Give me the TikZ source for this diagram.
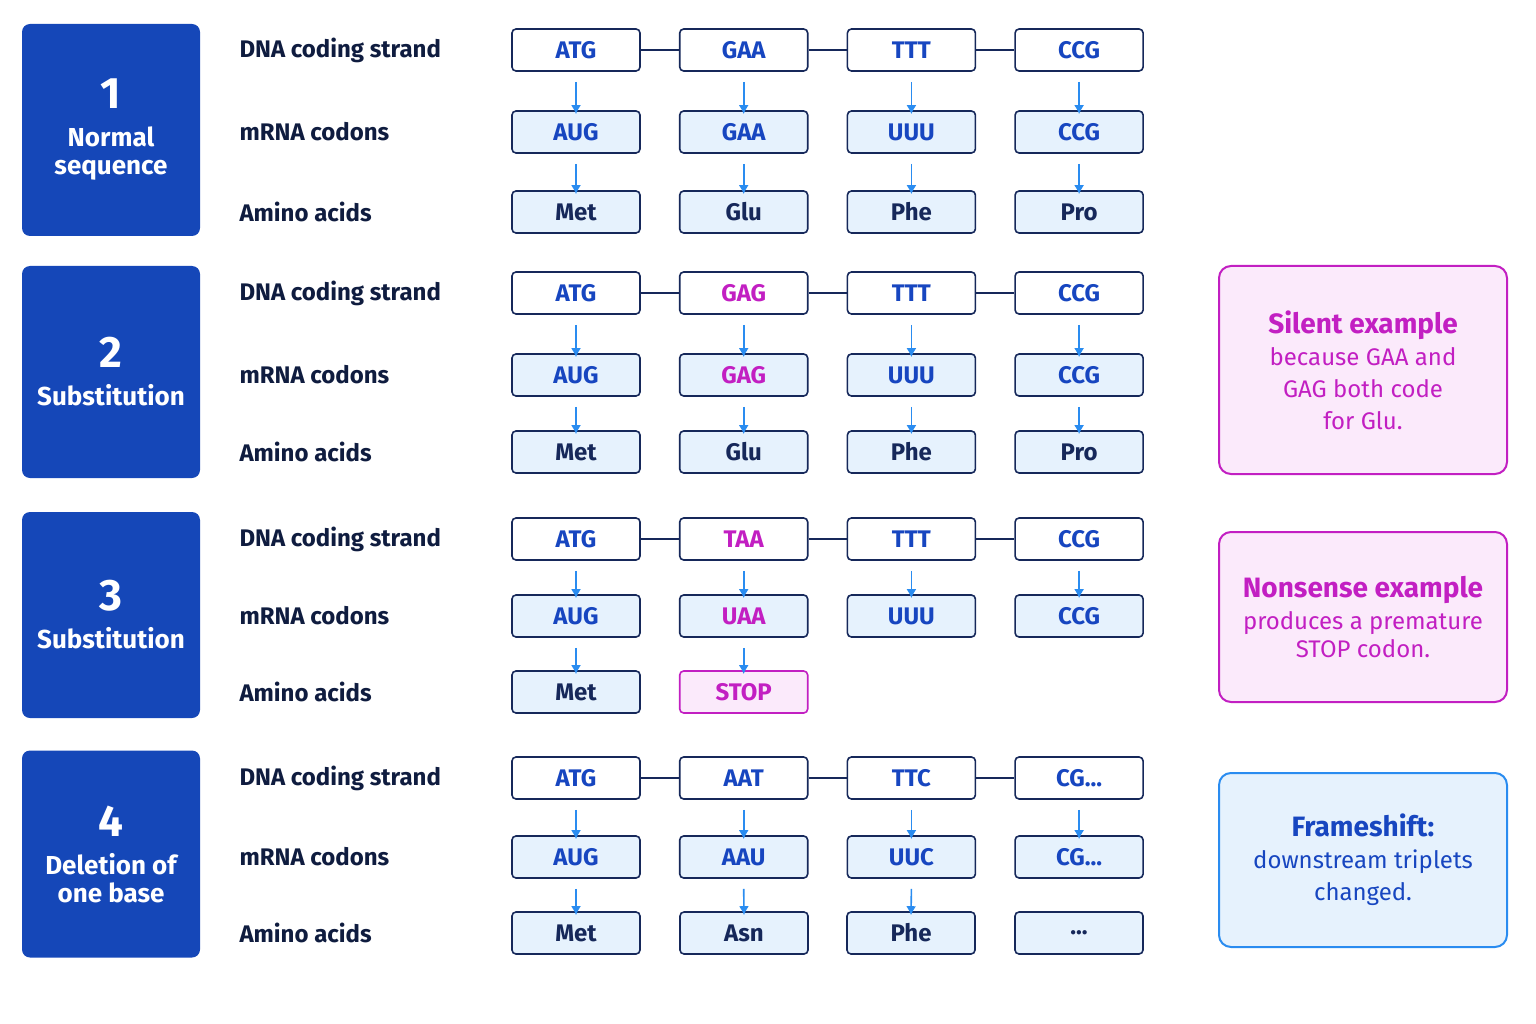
\documentclass[tikz,border=0pt]{standalone}
\usepackage{fontspec}
\setmainfont{Fira Sans}
\usetikzlibrary{arrows.meta}
\begin{document}
\definecolor{navy}{HTML}{16285A}
\definecolor{tblue}{HTML}{1746C0}
\definecolor{arr}{HTML}{2A8CF0}
\definecolor{lfill}{HTML}{E6F2FD}
\definecolor{mag}{HTML}{C21FC2}
\definecolor{pfill}{HTML}{FBEAFB}
\definecolor{pbox}{HTML}{1547B8}
\begin{tikzpicture}[x=1pt,y=-1pt,
 box/.style={draw=navy,line width=1.6pt,rounded corners=4pt,minimum width=128pt,minimum height=42pt,inner sep=0pt,font=\fontsize{24}{26}\selectfont\bfseries},
 dna/.style={box,fill=white,text=tblue},
 rna/.style={box,fill=lfill,text=tblue},
 aa/.style={box,fill=lfill,text=navy},
 stop/.style={box,draw=mag,fill=pfill,text=mag},
 lab/.style={anchor=west,text=navy!70!black,font=\fontsize{24}{26}\selectfont\bfseries},
 panel/.style={fill=pbox,rounded corners=8pt,text=white,align=center,minimum width=178pt,inner sep=0pt,font=\fontsize{26}{38}\selectfont\bfseries},
 link/.style={navy,line width=2pt},
 ar/.style={arr,line width=1.6pt,-{Latex[length=9pt,width=10pt]}},
 note/.style={rounded corners=12pt,line width=2pt,minimum width=288pt,align=center,inner sep=0pt,font=\fontsize{24}{32}\selectfont}
]
\useasboundingbox (0,0) rectangle (1536,1024);
\newcommand\dnarow[3]{\foreach \i/\t in {#3} \node[dna] (p#1d\i) at ({408.3+167.7*\i},#2) {\t};
 \foreach \i [evaluate=\i as \j using int(\i+1)] in {1,2,3} \draw[link] (p#1d\i.east) -- (p#1d\j.west);
 \node[lab] (l#1d) at (236,#2) {DNA coding strand};}
\newcommand\rnarow[3]{\foreach \i/\t in {#3} {\node[rna] (p#1r\i) at ({408.3+167.7*\i},#2) {\t};
 \draw[ar] (p#1d\i.south) ++(0,10) -- ([yshift=-4pt]p#1r\i.north);}
 \node[lab] (l#1r) at (236,#2) {mRNA codons};}
\newcommand\aarow[3]{\foreach \i/\t/\s in {#3} {\node[\s] (p#1a\i) at ({408.3+167.7*\i},#2) {\t};
 \draw[ar] (p#1r\i.south) ++(0,10) -- ([yshift=-4pt]p#1a\i.north);}
 \node[lab] (l#1a) at (236,#2) {Amino acids};}
% panel 1
\node[panel,minimum height=212pt] (P1) at (111,130) {{\fontsize{44}{50}\selectfont 1}\\Normal\\[-10pt]sequence};
\dnarow{1}{50}{1/ATG,2/GAA,3/TTT,4/CCG}
\rnarow{1}{132}{1/AUG,2/GAA,3/UUU,4/CCG}
\aarow{1}{212}{1/Met/aa,2/Glu/aa,3/Phe/aa,4/Pro/aa}
% panel 2
\node[panel,minimum height=212pt] (P2) at (111,372) {{\fontsize{44}{50}\selectfont 2}\\Substitution};
\dnarow{2}{293}{1/ATG,2/\textcolor{mag}{GAG},3/TTT,4/CCG}
\rnarow{2}{375}{1/AUG,2/\textcolor{mag}{GAG},3/UUU,4/CCG}
\aarow{2}{452}{1/Met/aa,2/Glu/aa,3/Phe/aa,4/Pro/aa}
% panel 3
\node[panel,minimum height=206pt] (P3) at (111,615) {{\fontsize{44}{50}\selectfont 3}\\Substitution};
\dnarow{3}{539}{1/ATG,2/\textcolor{mag}{TAA},3/TTT,4/CCG}
\rnarow{3}{616}{1/AUG,2/\textcolor{mag}{UAA},3/UUU,4/CCG}
\aarow{3}{692}{1/Met/aa,2/STOP/stop}
% panel 4
\node[panel,minimum height=207pt] (P4) at (111,854) {{\fontsize{44}{50}\selectfont 4}\\Deletion of\\[-10pt]one base};
\dnarow{4}{778}{1/ATG,2/AAT,3/TTC,4/{CG...}}
\rnarow{4}{857}{1/AUG,2/AAU,3/UUC,4/{CG...}}
\node[aa] (p4a1) at (576,933) {Met};
\node[aa] (p4a2) at (744,933) {Asn};
\node[aa] (p4a3) at (911,933) {Phe};
\node[aa] (p4a4) at (1079,933) {...};
\foreach \i in {1,2,3} \draw[ar] (p4r\i.south) ++(0,10) -- ([yshift=-4pt]p4a\i.north);
\node[lab] (l4a) at (236,933) {Amino acids};
% notes
\node[note,draw=mag,fill=pfill,text=mag,minimum height=208pt] (n1) at (1363,370)
 {{\fontsize{28}{32}\selectfont\bfseries Silent example}\\because GAA and\\GAG both code\\for Glu.};
\node[note,draw=mag,fill=pfill,text=mag,minimum height=170pt] (n2) at (1363,617)
 {{\fontsize{28}{32}\selectfont\bfseries Nonsense example}\\produces a premature\\[-4pt]STOP codon.};
\node[note,draw=arr,fill=lfill,text=tblue,minimum height=174pt] (n3) at (1363,860)
 {{\fontsize{28}{32}\selectfont\bfseries Frameshift:}\\downstream triplets\\changed.};
\end{tikzpicture}
\end{document}
